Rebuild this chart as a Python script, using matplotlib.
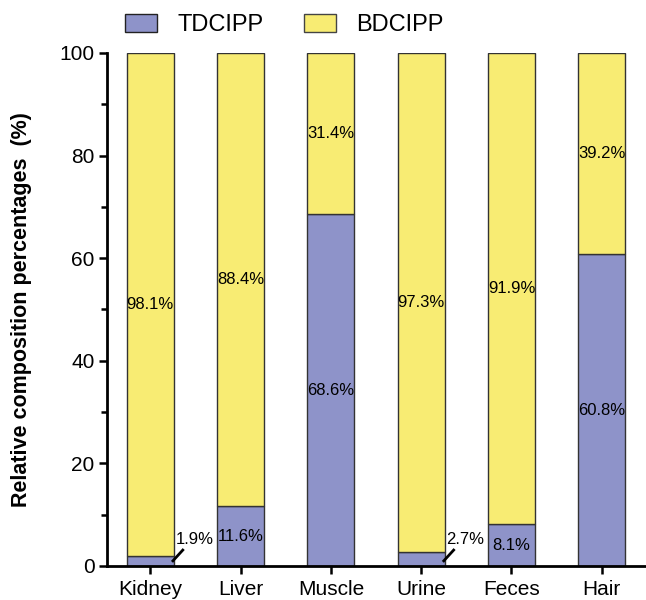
import matplotlib
matplotlib.use("Agg")
import matplotlib.pyplot as plt
from matplotlib.ticker import MultipleLocator
from matplotlib.patches import Patch

plt.rcParams['font.family'] = ['Liberation Sans', 'DejaVu Sans']

categories = ["Kidney", "Liver", "Muscle", "Urine", "Feces", "Hair"]
tdcipp = [1.9, 11.6, 68.6, 2.7, 8.1, 60.8]
bdcipp = [98.1, 88.4, 31.4, 97.3, 91.9, 39.2]
yticks = [0, 20, 40, 60, 80, 100]

c_td = "#8e93c9"
c_bd = "#f8ec73"

fig = plt.figure(figsize=(6.46, 6.0), dpi=100)
ax = fig.add_axes([0.1656, 0.0567, 0.8344, 0.855])
x = list(range(len(categories)))
w = 0.52
ax.bar(x, tdcipp, width=w, color=c_td, edgecolor="#333333", linewidth=1.0)
ax.bar(x, bdcipp, width=w, bottom=tdcipp, color=c_bd, edgecolor="#333333", linewidth=1.0)

for i in x:
    t, b = tdcipp[i], bdcipp[i]
    ax.text(i, t + b / 2, f"{b}%", ha="center", va="center", fontsize=12)
    if t > 5:
        ax.text(i, t / 2, f"{t}%", ha="center", va="center", fontsize=12)
    else:
        ax.plot([i + 0.24, i + 0.37], [0.8, 3.3], color="black", lw=2, solid_capstyle="butt")
        ax.text(i + 0.28, 5.1, f"{t}%", ha="left", va="center", fontsize=12)

ax.set_xlim(-0.48, 5.49)
ax.set_ylim(0, 100)
ax.set_xticks(x)
ax.set_xticklabels(categories, fontsize=15)
ax.set_yticks(yticks)
ax.yaxis.set_minor_locator(MultipleLocator(10))
ax.tick_params(axis="y", labelsize=15, width=1.8, length=6, direction="out", pad=3)
ax.tick_params(axis="y", which="minor", width=1.8, length=4)
ax.tick_params(axis="x", width=1.8, length=6, direction="out", pad=4)
for s in ["top", "right"]:
    ax.spines[s].set_visible(False)
for s in ["left", "bottom"]:
    ax.spines[s].set_linewidth(2)
ax.set_ylabel("Relative composition percentages  (%)", fontsize=15.5, fontweight="bold", labelpad=20)

handles = [Patch(facecolor=c_td, edgecolor="#222222", label="TDCIPP"),
           Patch(facecolor=c_bd, edgecolor="#444444", label="BDCIPP")]
fig.legend(handles=handles, loc="center", bbox_to_anchor=(0.44, 0.958), ncol=2,
           frameon=False, fontsize=17, handlelength=1.35, handleheight=0.8,
           columnspacing=1.7, handletextpad=0.85)

fig.savefig("out.png", dpi=100)
